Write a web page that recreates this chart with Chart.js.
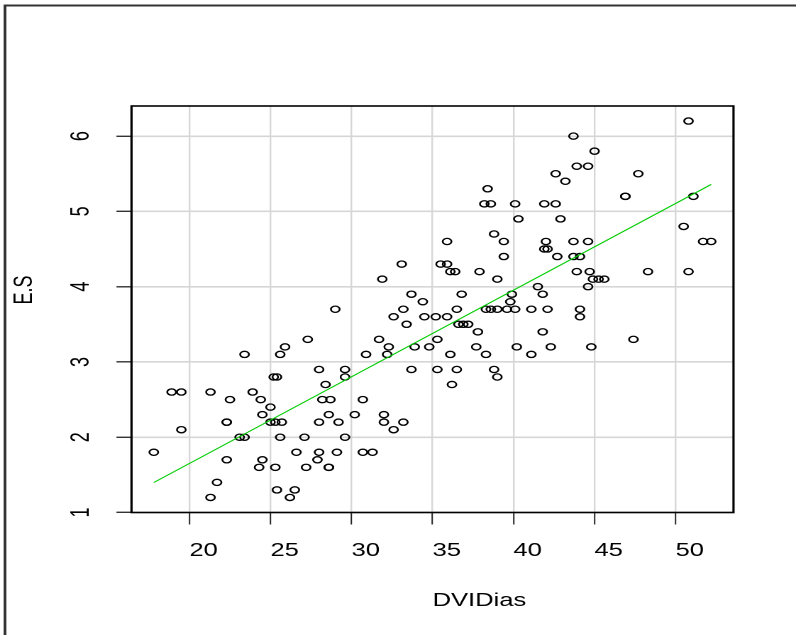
<!DOCTYPE html>
<html>
<head>
<meta charset="utf-8">
<title>E.S vs DVIDias</title>
<script src="https://cdn.jsdelivr.net/npm/chart.js@4.4.1/dist/chart.umd.min.js"></script>
<style>
  html, body { margin: 0; padding: 0; background: #fff; overflow: hidden; }
  /* the source picture is an R plot stretched sideways, so draw narrow and stretch */
  #wrap { width: 561px; height: 635px; transform: scaleX(1.418895); transform-origin: 0 0; }
</style>
</head>
<body>
<div id="wrap"><canvas id="chart" width="561" height="635"></canvas></div>
<script>
// Data, one row of the picture (same E.S value) per line
const dviDias = [
    50.8,
    43.7,
    45.0,
    43.9, 44.6,
    42.6, 47.7,
    43.2,
    38.4,
    46.9, 46.9, 51.1,
    38.2, 38.6, 40.1, 41.9, 42.6,
    40.3, 42.9,
    50.5,
    38.8,
    35.9, 39.4, 42.0, 43.7, 44.6, 51.7, 52.2,
    41.9, 42.1,
    39.4, 42.7, 43.7, 44.1,
    33.1, 35.5, 35.9,
    36.1, 36.4, 37.9, 43.9, 44.7, 48.3, 50.8,
    31.9, 39.0, 44.9, 45.25, 45.6,
    41.5, 44.6,
    33.7, 36.8, 39.9, 41.8,
    34.4, 39.8,
    29.0, 33.2, 36.5, 38.3, 38.6, 39.0, 39.6, 40.1, 41.1, 42.1, 44.1,
    32.6, 34.5, 35.2, 35.9, 44.1,
    33.4, 36.6, 36.9, 37.2,
    37.8, 41.8,
    27.3, 31.7, 35.3, 47.4,
    25.9, 32.3, 33.9, 34.8, 37.7, 40.2, 42.3, 44.8,
    23.4, 25.6, 30.9, 32.2, 36.1, 38.3, 41.1,
    28.0, 29.6, 33.7, 35.3, 36.5, 38.8,
    25.2, 25.4, 29.6, 39.0,
    28.4, 36.2,
    18.9, 19.5, 21.3, 23.9,
    22.5, 24.4, 28.2, 28.7, 30.7,
    25.0,
    24.5, 28.6, 30.2, 32.0,
    22.3, 22.3, 25.0, 25.3, 25.7, 28.0, 29.2, 32.0, 33.2,
    19.5, 32.6,
    23.1, 23.4, 25.6, 27.1, 29.6,
    17.8, 26.6, 28.0, 29.1, 30.7, 31.3,
    22.3, 24.5, 27.9,
    24.3, 25.3, 27.2, 28.6, 28.6,
    21.7,
    25.4, 26.5,
    21.3, 26.2
];
const es = [
    6.2,
    6.0,
    5.8,
    5.6, 5.6,
    5.5, 5.5,
    5.4,
    5.3,
    5.2, 5.2, 5.2,
    5.1, 5.1, 5.1, 5.1, 5.1,
    4.9, 4.9,
    4.8,
    4.7,
    4.6, 4.6, 4.6, 4.6, 4.6, 4.6, 4.6,
    4.5, 4.5,
    4.4, 4.4, 4.4, 4.4,
    4.3, 4.3, 4.3,
    4.2, 4.2, 4.2, 4.2, 4.2, 4.2, 4.2,
    4.1, 4.1, 4.1, 4.1, 4.1,
    4.0, 4.0,
    3.9, 3.9, 3.9, 3.9,
    3.8, 3.8,
    3.7, 3.7, 3.7, 3.7, 3.7, 3.7, 3.7, 3.7, 3.7, 3.7, 3.7,
    3.6, 3.6, 3.6, 3.6, 3.6,
    3.5, 3.5, 3.5, 3.5,
    3.4, 3.4,
    3.3, 3.3, 3.3, 3.3,
    3.2, 3.2, 3.2, 3.2, 3.2, 3.2, 3.2, 3.2,
    3.1, 3.1, 3.1, 3.1, 3.1, 3.1, 3.1,
    2.9, 2.9, 2.9, 2.9, 2.9, 2.9,
    2.8, 2.8, 2.8, 2.8,
    2.7, 2.7,
    2.6, 2.6, 2.6, 2.6,
    2.5, 2.5, 2.5, 2.5, 2.5,
    2.4,
    2.3, 2.3, 2.3, 2.3,
    2.2, 2.2, 2.2, 2.2, 2.2, 2.2, 2.2, 2.2, 2.2,
    2.1, 2.1,
    2.0, 2.0, 2.0, 2.0, 2.0,
    1.8, 1.8, 1.8, 1.8, 1.8, 1.8,
    1.7, 1.7, 1.7,
    1.6, 1.6, 1.6, 1.6, 1.6,
    1.4,
    1.3, 1.3,
    1.2, 1.2
];
const xTicks = [20, 25, 30, 35, 40, 45, 50];
const yTicks = [1, 2, 3, 4, 5, 6];

// fitted line
const fitIntercept = -0.65;
const fitSlope = 0.1151;

const FONT = '"Liberation Sans", Arial, sans-serif';

// R style limits: data range plus 4% on each side
function paddedRange(values) {
    const lo = Math.min(...values);
    const hi = Math.max(...values);
    const pad = (hi - lo) * 0.04;
    return [lo - pad, hi + pad];
}

const xRange = paddedRange(dviDias);
const yRange = paddedRange(es);

const points = dviDias.map((x, i) => ({ x: x, y: es[i] }));
const xLo = Math.min(...dviDias);
const xHi = Math.max(...dviDias);
const fitLine = [
    { x: xLo, y: fitIntercept + fitSlope * xLo },
    { x: xHi, y: fitIntercept + fitSlope * xHi }
];

// Box, outer frame and axis titles
const rFrame = {
    id: 'rFrame',
    afterDraw(chart) {
        const ctx = chart.ctx;
        const area = chart.chartArea;
        ctx.save();

        // outer frame, only its top and left edges fall inside the picture
        ctx.strokeStyle = '#333';
        ctx.lineWidth = 2;
        ctx.beginPath();
        ctx.moveTo(3.5, chart.height);
        ctx.lineTo(3.5, 5.5);
        ctx.lineTo(chart.width, 5.5);
        ctx.stroke();

        // plot box
        ctx.strokeStyle = '#000';
        ctx.lineWidth = 1.6;
        ctx.strokeRect(area.left, area.top, area.right - area.left, area.bottom - area.top);

        // axis titles
        ctx.fillStyle = '#000';
        ctx.font = '18px ' + FONT;
        ctx.textBaseline = 'middle';
        ctx.textAlign = 'left';
        ctx.fillText('DVIDias', (area.left + area.right) / 2, 601);

        ctx.translate(17.6, 290);
        ctx.rotate(-Math.PI / 2);
        ctx.textAlign = 'center';
        ctx.fillText('E.S', 0, 0);
        ctx.restore();
    }
};

new Chart(document.getElementById('chart'), {
    type: 'scatter',
    data: {
        datasets: [
            {
                type: 'line',
                label: 'fit',
                data: fitLine,
                borderColor: '#00cc00',
                borderWidth: 1,
                pointRadius: 0,
                fill: false,
                order: 0
            },
            {
                label: 'E.S',
                data: points,
                borderColor: '#000',
                backgroundColor: 'rgba(0,0,0,0)',
                borderWidth: 1.3,
                pointRadius: 3.1,
                pointStyle: 'circle',
                order: 1
            }
        ]
    },
    options: {
        responsive: false,
        animation: false,
        devicePixelRatio: 2,
        layout: {
            padding: { left: 0, top: 106, right: 44.05, bottom: 0 }
        },
        plugins: {
            legend: { display: false },
            tooltip: { enabled: false }
        },
        scales: {
            x: {
                type: 'linear',
                min: xRange[0],
                max: xRange[1],
                afterBuildTicks: axis => { axis.ticks = xTicks.map(v => ({ value: v })); },
                afterFit: axis => { axis.height = 122.5; },
                border: { display: false },
                grid: {
                    color: '#d6d6d6',
                    lineWidth: 1.2,
                    tickLength: 12,
                    tickColor: '#222',
                    tickWidth: 1
                },
                ticks: {
                    autoSkip: false,
                    align: 'start',
                    padding: 15.7,
                    color: '#000',
                    font: { family: FONT, size: 18 },
                    callback: v => String(v)
                }
            },
            y: {
                type: 'linear',
                min: yRange[0],
                max: yRange[1],
                afterBuildTicks: axis => { axis.ticks = yTicks.map(v => ({ value: v })); },
                afterFit: axis => { axis.width = 92.68; },
                border: { display: false },
                grid: {
                    color: '#d6d6d6',
                    lineWidth: 1.6,
                    tickLength: 10.6,
                    tickColor: '#333',
                    tickWidth: 1.4
                },
                ticks: {
                    autoSkip: false,
                    minRotation: 90,
                    maxRotation: 90,
                    crossAlign: 'center',
                    padding: 19.5,
                    color: '#000',
                    font: { family: FONT, size: 18 },
                    callback: v => String(v)
                }
            }
        }
    },
    plugins: [rFrame]
});
</script>
</body>
</html>
